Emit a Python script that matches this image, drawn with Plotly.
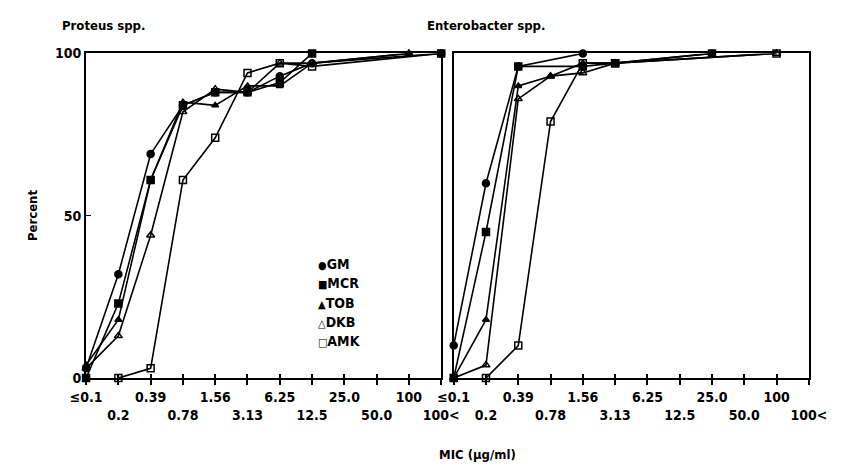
import plotly.graph_objects as go

# ---- data ----
mic_labels = ["≤0.1", "0.2", "0.39", "0.78", "1.56", "3.13", "6.25", "12.5", "25.0", "50.0", "100", "100<"]
drugs = ["GM", "MCR", "TOB", "DKB", "AMK"]
legend_glyphs = ["●", "■", "▲", "△", "□"]
N = None
proteus_GM  = [3, 32, 69, 84, 88, 88, 93, 97, N, N, N, 100]
proteus_MCR = [0, 23, 61, 84, 88, 88, 91, 100, N, N, N, N]
proteus_TOB = [4, 18, 61, 85, 84, 90, 90, 97, N, N, 100, N]
proteus_DKB = [3, 13, 44, 82, 89, 88, 97, 97, N, N, 100, N]
proteus_AMK = [N, 0, 3, 61, 74, 94, 97, 96, N, N, N, 100]

entero_GM  = [10, 60, 96, N, 100, N, N, N, N, N, N, N]
entero_MCR = [0, 45, 96, N, 96, 97, N, N, 100, N, N, N]
entero_TOB = [0, 18, 90, 93, 97, 97, N, N, 100, N, N, N]
entero_DKB = [0, 4, 86, 93, 94, 97, N, N, N, N, 100, N]
entero_AMK = [N, 0, 10, 79, 97, 97, N, N, N, N, 100, N]

panel_titles = ["Proteus spp.", "Enterobacter spp."]
y_ticks = [0, 50, 100]

symbols = {"GM": "circle", "MCR": "square", "TOB": "triangle-up",
           "DKB": "triangle-up-open", "AMK": "square-open"}
sizes = {"GM": 7, "MCR": 7, "TOB": 6, "DKB": 7, "AMK": 7}

FONT = "DejaVu Sans Condensed, Liberation Sans Narrow, Arial Narrow, sans-serif"
W, H = 847, 474

fig = go.Figure()
idx = list(range(len(mic_labels)))
panels = [
    ("x", "y", [proteus_GM, proteus_MCR, proteus_TOB, proteus_DKB, proteus_AMK]),
    ("x2", "y2", [entero_GM, entero_MCR, entero_TOB, entero_DKB, entero_AMK]),
]
for xa, ya, series in panels:
    for name, vals in zip(drugs, series):
        fig.add_trace(go.Scatter(
            x=idx, y=vals, mode="lines+markers", connectgaps=True,
            xaxis=xa, yaxis=ya, showlegend=False, cliponaxis=False,
            line=dict(color="black", width=1.6),
            marker=dict(symbol=symbols[name], size=sizes[name], color="black",
                        line=dict(color="black", width=1.5)),
        ))

ticktext = [lab if i % 2 == 0 else "<br>" + lab for i, lab in enumerate(mic_labels)]

axis_common = dict(
    range=[0, 11], tickvals=idx, ticktext=ticktext, tickangle=0,
    showgrid=False, zeroline=False,
    showline=True, linecolor="black", linewidth=2, mirror=True,
    ticks="outside", ticklen=5, tickwidth=1.5, tickcolor="black",
    tickfont=dict(family=FONT, size=14, color="black", weight="bold"),
)
inner_ticks = dict(
    range=[0, 11], tickvals=idx, showticklabels=False, showgrid=False, zeroline=False,
    showline=False, ticks="inside", ticklen=4, tickwidth=1.5, tickcolor="black",
)
yaxis_common = dict(
    range=[0, 100], showgrid=False, zeroline=False,
    showline=True, linecolor="black", linewidth=2, mirror=True,
)
ydom = [(H - 383) / H, (H - 47) / H]
fig.update_layout(
    width=W, height=H, margin=dict(l=0, r=0, t=0, b=0),
    paper_bgcolor="white", plot_bgcolor="white", showlegend=False,
    xaxis=dict(domain=[73 / W, 443 / W], anchor="y", **axis_common),
    xaxis2=dict(domain=[456 / W, 826 / W], anchor="y2", **axis_common),
    xaxis3=dict(overlaying="x", anchor="y", side="bottom", **inner_ticks),
    xaxis4=dict(overlaying="x2", anchor="y2", side="bottom", **inner_ticks),
    yaxis=dict(domain=ydom, anchor="x", tickvals=y_ticks, ticktext=[str(v) for v in y_ticks],
               ticks="inside", ticklen=5, tickcolor="black", tickwidth=1,
               tickfont=dict(family=FONT, size=14, color="black", weight="bold"),
               **yaxis_common),
    yaxis2=dict(domain=ydom, anchor="x2", showticklabels=False, ticks="", **yaxis_common),
    font=dict(family=FONT, color="black"),
)
# invisible traces so the tick-overlay axes are drawn
fig.add_trace(go.Scatter(x=[0], y=[None], xaxis="x3", yaxis="y", showlegend=False, hoverinfo="skip"))
fig.add_trace(go.Scatter(x=[0], y=[None], xaxis="x4", yaxis="y2", showlegend=False, hoverinfo="skip"))

def ann(text, x, y, size=13, xanchor="left", angle=0):
    fig.add_annotation(text=text, x=x / W, y=(H - y) / H, xref="paper", yref="paper",
                       xanchor=xanchor, yanchor="middle", showarrow=False, textangle=angle,
                       font=dict(family=FONT, size=size, color="black", weight="bold"))

ann(panel_titles[0], 46, 18)
ann(panel_titles[1], 426, 18)
ann("MIC (μg/ml)", 481, 462, size=13, xanchor="center")
ann("Percent", 17, 215, size=13, xanchor="center", angle=-90)

for i, (g, name) in enumerate(zip(legend_glyphs, drugs)):
    ann('<span style="font-size:11px">' + g + '</span>' + name, 313, 265 + 20 * i, size=14)

fig.write_html("out.html")
